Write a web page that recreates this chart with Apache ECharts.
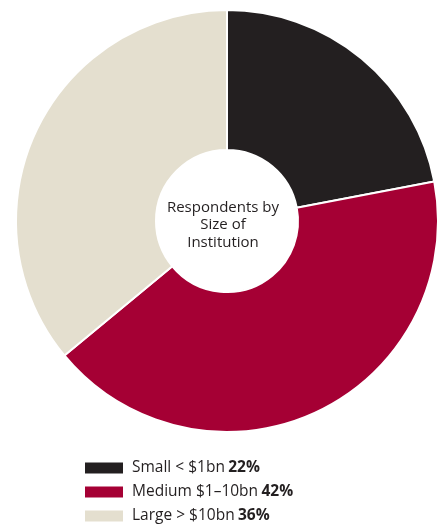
<!DOCTYPE html>
<html>
<head>
<meta charset="utf-8">
<script src="https://cdn.jsdelivr.net/npm/echarts@6/dist/echarts.min.js"></script>
<style>
  html, body { margin: 0; padding: 0; background: #ffffff; }
  #chart { width: 446px; height: 527px; }
</style>
</head>
<body>
<div id="chart"></div>
<script>
// Respondent breakdown by institution size
const categories = ['Small < $1bn', 'Medium $1\u201310bn', 'Large > $10bn'];
const shares = [22, 42, 36];
const colors = ['#231f20', '#a50034', '#e4dfcf'];
const centerTitle = 'Respondents by\nSize of\nInstitution';

const chart = echarts.init(document.getElementById('chart'), null, { renderer: 'canvas' });

const data = categories.map((name, i) => ({
  name: name,
  value: shares[i],
  itemStyle: { color: colors[i] }
}));

chart.setOption({
  animation: false,
  color: colors,
  graphic: [{
    type: 'text',
    x: 223,
    y: 225,
    style: {
      text: centerTitle,
      align: 'center',
      verticalAlign: 'middle',
      fontFamily: 'Open Sans',
      fontSize: 15,
      lineHeight: 17.5,
      fill: '#231f20'
    }
  }],
  legend: {
    orient: 'vertical',
    left: 83,
    top: 460,
    height: 80,
    padding: 0,
    itemWidth: 40,
    itemHeight: 13,
    itemGap: 8,
    icon: 'rect',
    selectedMode: false,
    data: categories,
    formatter: function (name) {
      const i = categories.indexOf(name);
      return '{n|' + name + '} {b|' + shares[i] + '%}';
    },
    textStyle: {
      padding: [0, 0, 0, 3],
      rich: {
        n: { fontFamily: 'Open Sans', fontSize: 15.5, lineHeight: 16, color: '#231f20' },
        b: { fontFamily: 'Open Sans', fontSize: 15.5, lineHeight: 16, fontWeight: 'bold', color: '#231f20' }
      }
    }
  },
  series: [{
    type: 'pie',
    center: [227, 221],
    radius: [71, 211],
    startAngle: 90,
    clockwise: true,
    label: { show: false },
    labelLine: { show: false },
    emphasis: { disabled: true },
    itemStyle: { borderColor: '#ffffff', borderWidth: 2 },
    data: data
  }]
});
</script>
</body>
</html>
